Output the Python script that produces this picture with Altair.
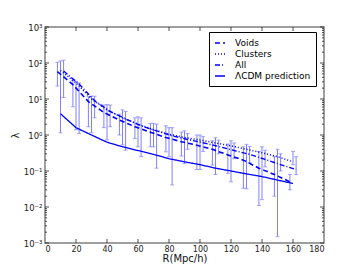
import altair as alt
import pandas as pd

# ---- data ----
R = [10, 20, 30, 40, 50, 60, 70, 80, 90, 100, 110, 120, 130, 140, 150, 160]
series_names = ["Voids", "Clusters", "All", "ΛCDM prediction"]
offsets = [-2, 0, 2]

voids = [58, 25, 8.5, 4.2, 2.6, 1.7, 1.2, 0.85, 0.65, 0.52, 0.40, 0.28, 0.20, 0.12, 0.08, 0.05]
voids_lo = [23, 6.1, 1.7, 1.6, 1.0, 0.8, 0.47, 0.34, 0.26, 0.11, 0.146, 0.086, 0.033, 0.011, 0.02, 0.03]
voids_hi = [105, 33, 11.6, 6.8, 3.8, 3.0, 2.1, 1.8, 1.2, 1.0, 0.69, 0.56, 0.47, 0.35, 0.25, 0.08]

clusters = [62, 28, 10, 5.0, 3.0, 2.0, 1.4, 1.05, 0.85, 0.73, 0.60, 0.50, 0.40, 0.32, 0.25, 0.18]
clusters_lo = [1.15, 1.4, 1.16, 0.73, 0.53, 0.47, 0.47, 0.25, 0.16, 0.11, 0.08, 0.05, 0.032, 0.016, 0.0015, 0.15]
clusters_hi = [114, 31, 12, 7.0, 5.0, 3.2, 2.1, 1.6, 1.3, 1.0, 0.84, 0.69, 0.55, 0.47, 0.40, 0.35]

all_ = [60, 26, 9, 4.5, 2.8, 1.8, 1.3, 0.95, 0.75, 0.61, 0.48, 0.37, 0.29, 0.21, 0.15, 0.11]
all_lo = [11, 1.1, 3, 1.7, 0.38, 0.25, 0.12, 0.041, 0.4, 0.35, 0.3, 0.22, 0.17, 0.13, 0.1, 0.08]
all_hi = [120, 28, 12, 6.8, 4.5, 3.0, 2.0, 1.6, 1.1, 0.9, 0.72, 0.6, 0.48, 0.38, 0.3, 0.25]

lcdm = [3.9, 1.6, 1.0, 0.63, 0.47, 0.37, 0.29, 0.22, 0.18, 0.15, 0.12, 0.10, 0.083, 0.07, 0.056, 0.045]

x_ticks = [0, 20, 40, 60, 80, 100, 120, 140, 160, 180]
y_ticks = [0.001, 0.01, 0.1, 1, 10, 100, 1000]

# ---- tables ----
rows = []
for name, vals, lo, hi, off in [
    ("Voids", voids, voids_lo, voids_hi, offsets[0]),
    ("Clusters", clusters, clusters_lo, clusters_hi, offsets[1]),
    ("All", all_, all_lo, all_hi, offsets[2]),
]:
    for r, v, l, h in zip(R, vals, lo, hi):
        rows.append({"series": name, "x": r + off, "y": v, "lo": l, "hi": h})
df = pd.DataFrame(rows)
lcdm_df = pd.DataFrame({"series": "ΛCDM prediction", "x": R, "y": lcdm})
line_df = pd.concat([df[["series", "x", "y"]], lcdm_df], ignore_index=True)

minor = [k * d for d in [0.001, 0.01, 0.1, 1, 10, 100] for k in range(2, 10)]
ymaj = pd.DataFrame({"y": y_ticks})
ymin = pd.DataFrame({"y": minor})
xmaj = pd.DataFrame({"x": x_ticks[1:-1]})

W, H = 279, 216
BLUE = "#0000ff"
EB = "#8080ff"

xs = alt.Scale(domain=[0, 180], nice=False, zero=False)
ys = alt.Scale(type="log", domain=[0.001, 1000], nice=False)

label_expr = ("datum.value < 0.005 ? '10⁻³' : datum.value < 0.05 ? '10⁻²' : "
              "datum.value < 0.5 ? '10⁻¹' : datum.value < 5 ? '10⁰' : "
              "datum.value < 50 ? '10¹' : datum.value < 500 ? '10²' : '10³'")

xaxis = alt.Axis(values=x_ticks, title="R(Mpc/h)", labelPadding=2, titlePadding=0,
                 titleFontSize=10, titleFontWeight="normal")
yaxis = alt.Axis(values=y_ticks, title="λ", labelExpr=label_expr, labelPadding=3,
                 titlePadding=3, titleFontSize=10, titleFontWeight="normal",
                 labelFontSize=8.5)

X = alt.X("x:Q", scale=xs, axis=xaxis)

errbars = alt.Chart(df).mark_rule(color=EB, strokeWidth=1).encode(
    x=X, y=alt.Y("lo:Q", scale=ys, axis=yaxis), y2="hi:Q",
)
caps_lo = alt.Chart(df).mark_tick(orient="horizontal", color=EB, size=4, thickness=1).encode(
    x=X, y=alt.Y("lo:Q", scale=ys, axis=yaxis))
caps_hi = alt.Chart(df).mark_tick(orient="horizontal", color=EB, size=4, thickness=1).encode(
    x=X, y=alt.Y("hi:Q", scale=ys, axis=yaxis))

lines = alt.Chart(line_df).mark_line(color=BLUE).encode(
    x=X,
    y=alt.Y("y:Q", scale=ys, axis=yaxis),
    strokeDash=alt.StrokeDash(
        "series:N",
        scale=alt.Scale(domain=series_names, range=[[5, 3], [1, 2], [5, 2, 1, 2], [1, 0]]),
        legend=alt.Legend(
            title=None, orient="none", legendX=164, legendY=5,
            strokeColor="black", fillColor="white", padding=5,
            labelFontSize=9, labelFont="DejaVu Sans", labelColor="black",
            symbolStrokeColor=BLUE, symbolStrokeWidth=1.6, symbolSize=100,
            symbolType="stroke", rowPadding=0, labelOffset=9,
        ),
    ),
    strokeWidth=alt.StrokeWidth(
        "series:N",
        scale=alt.Scale(domain=series_names, range=[1.6, 1.3, 1.6, 2.0]),
        legend=None,
    ),
    order="x:Q",
)

def yrule(data, x0, x1):
    return alt.Chart(data).mark_rule(color="#222", strokeWidth=0.8).encode(
        y=alt.Y("y:Q", scale=ys, axis=yaxis), x=alt.value(x0), x2=alt.value(x1))

def xrule(data, y0, y1):
    return alt.Chart(data).mark_rule(color="#222", strokeWidth=0.8).encode(
        x=X, y=alt.value(y0), y2=alt.value(y1))

ticks = [
    yrule(ymaj, 0, 4), yrule(ymaj, W - 4, W),
    yrule(ymin, 0, 2), yrule(ymin, W - 2, W),
    xrule(xmaj, H, H - 4), xrule(xmaj, 0, 4),
]

chart = alt.layer(errbars, caps_lo, caps_hi, lines, *ticks).properties(
    width=W, height=H,
    autosize=alt.AutoSizeParams(type="none"),
    padding={"left": 37, "top": 19, "right": 28, "bottom": 26},
).configure_view(
    stroke="#808080", strokeWidth=1.5
).configure_axis(
    grid=False, ticks=False, domain=False,
    labelFont="DejaVu Sans", labelFontSize=8, labelColor="#222",
    titleFont="DejaVu Sans", titleColor="#111",
)

chart.save("out.html", embed_options={"renderer": "svg", "actions": False})
